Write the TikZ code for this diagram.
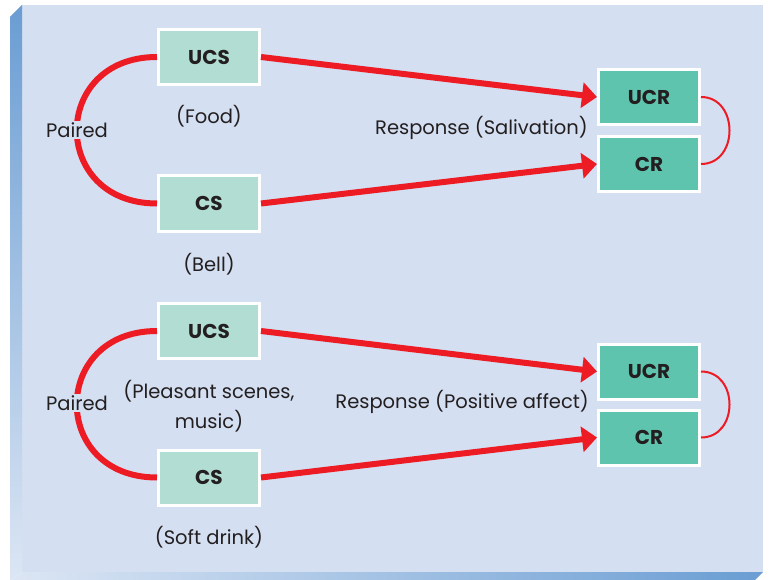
\documentclass[tikz,border=0pt]{standalone}
\usepackage{fontspec}
\setmainfont{Poppins}
\usetikzlibrary{arrows.meta}

\definecolor{panel}{HTML}{D4DFF1}
\definecolor{bandblue}{HTML}{6A9DD3}
\definecolor{bandlight}{HTML}{DCE6F4}
\definecolor{stimfill}{HTML}{B2DDD3}
\definecolor{respfill}{HTML}{5FC4AE}
\definecolor{linkred}{HTML}{ED1C24}
\definecolor{ink}{HTML}{231F20}

\tikzset{
  stimbox/.style={draw=white, line width=3pt, fill=stimfill, minimum width=101pt,
    minimum height=55pt, inner sep=0pt, text=ink,
    font=\fontsize{20}{22}\selectfont\bfseries},
  respbox/.style={stimbox, fill=respfill},
  lbl/.style={text=ink, inner sep=1pt, font=\fontsize{19.5}{22}\selectfont},
  pairlbl/.style={lbl, fill=panel, inner sep=1pt},
  pairlink/.style={draw=linkred, line width=6pt},
  fwd/.style={draw=linkred, line width=6pt, -{Triangle[length=15pt,width=25pt]}},
  bracket/.style={draw=linkred, line width=2pt}
}

\begin{document}
\begin{tikzpicture}[x=1pt,y=-1pt]
\useasboundingbox (0,0) rectangle (773,580);

% panel face and bevelled edges
\fill[panel] (22,5) rectangle (763,572);
\shade[top color=bandblue, bottom color=bandlight]
  (10,17) -- (22,5) -- (22,572) -- (10,580) -- cycle;
\shade[left color=bandlight, right color=bandblue]
  (10,580) -- (22,572) -- (763,572) -- (755,580) -- cycle;

% ---- classical conditioning: food and bell ----
\node[stimbox] (ucsA) at (209,57) {UCS};
\node[stimbox] (csA) at (209,203.5) {CS};
\node[respbox] (ucrA) at (649,97) {UCR};
\node[respbox] (crA) at (649,164) {CR};

\draw[pairlink] (ucsA.west) .. controls +(-107,0) and +(-107,0) .. (csA.west);
\node[pairlbl] (pairA) at (77,130) {Paired};
\node[lbl] (foodA) at (209,116) {(Food)};
\node[lbl] (bellA) at (209,264) {(Bell)};
\node[lbl, anchor=east] (respA) at (589,128) {Response (Salivation)};

\draw[fwd] (ucsA.east) -- (ucrA.west);
\draw[fwd] (csA.east) -- (crA.west);
\draw[bracket] (ucrA.east) .. controls +(38,0) and +(38,0) .. (crA.east);

% ---- advertising: pleasant scenes and soft drink ----
\node[stimbox] (ucsB) at (209,331) {UCS};
\node[stimbox] (csB) at (209,477.5) {CS};
\node[respbox] (ucrB) at (649,371.5) {UCR};
\node[respbox] (crB) at (649,437.5) {CR};

\draw[pairlink] (ucsB.west) .. controls +(-107,0) and +(-107,0) .. (csB.west);
\node[pairlbl] (pairB) at (77,403) {Paired};
\node[lbl, align=center, font=\fontsize{19.5}{30}\selectfont] (sceneB) at (209,406)
  {(Pleasant scenes,\\music)};
\node[lbl] (drinkB) at (209,537) {(Soft drink)};
\node[lbl, anchor=east] (respB) at (590,402) {Response (Positive affect)};

\draw[fwd] (ucsB.east) -- (ucrB.west);
\draw[fwd] (csB.east) -- (crB.west);
\draw[bracket] (ucrB.east) .. controls +(38,0) and +(38,0) .. (crB.east);
\end{tikzpicture}
\end{document}
